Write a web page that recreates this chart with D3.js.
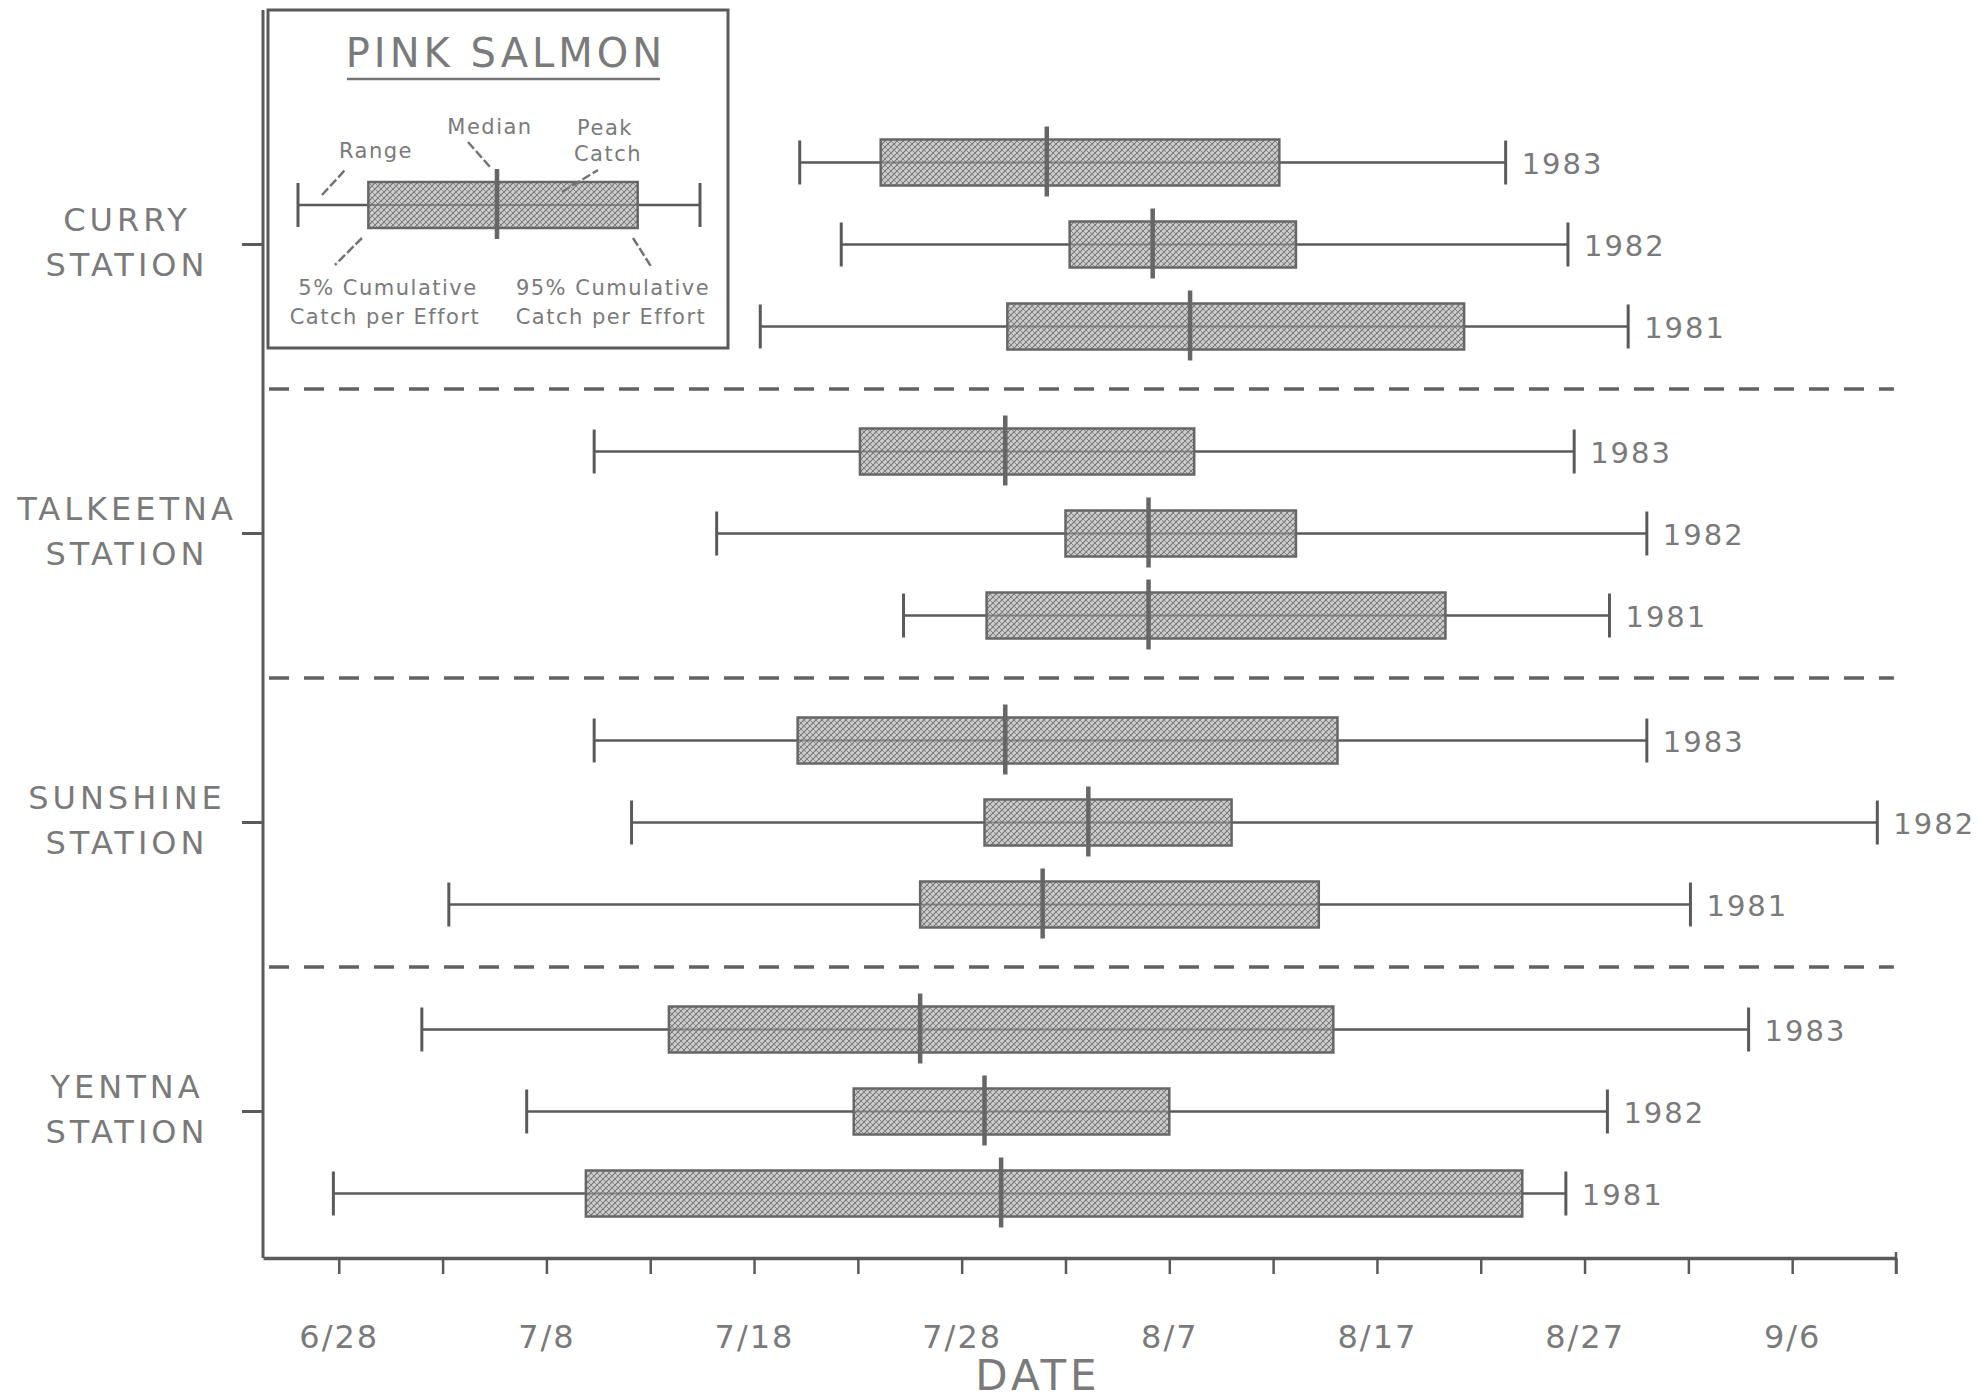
<!DOCTYPE html>
<html>
<head>
<meta charset="utf-8">
<script src="https://cdn.jsdelivr.net/npm/d3@7"></script>
<style>
  html, body { margin: 0; padding: 0; background: #ffffff; }
  svg { display: block; }
  text { font-family: "DejaVu Sans", sans-serif; fill: #7a7a7a; }
</style>
</head>
<body>
<svg id="chart" width="1983" height="1400"></svg>
<script>
// ---------------- DATA (days after 6/28) ----------------
const stations = ["CURRY", "TALKEETNA", "SUNSHINE", "YENTNA"];
const years = ["1983", "1982", "1981"];
// each entry: [range low, 5% cumulative, median, 95% cumulative, range high]
const curry     = { "1983": [22.2, 26.1, 34.1, 45.3, 56.2], "1982": [24.2, 35.2, 39.2, 46.1, 59.2], "1981": [20.3, 32.2, 41.0, 54.2, 62.1] };
const talkeetna = { "1983": [12.3, 25.1, 32.1, 41.2, 59.5], "1982": [18.2, 35.0, 39.0, 46.1, 63.0], "1981": [27.2, 31.2, 39.0, 53.3, 61.2] };
const sunshine  = { "1983": [12.3, 22.1, 32.1, 48.1, 63.0], "1982": [14.1, 31.1, 36.1, 43.0, 74.1], "1981": [5.3, 28.0, 33.9, 47.2, 65.1] };
const yentna    = { "1983": [4.0, 15.9, 28.0, 47.9, 67.9], "1982": [9.05, 24.8, 31.1, 40.0, 61.1], "1981": [-0.26, 11.9, 31.9, 57.0, 59.1] };
const stationData = { CURRY: curry, TALKEETNA: talkeetna, SUNSHINE: sunshine, YENTNA: yentna };

const tickDays   = [0, 5, 10, 15, 20, 25, 30, 35, 40, 45, 50, 55, 60, 65, 70, 75];
const labelDays  = [0, 10, 20, 30, 40, 50, 60, 70];
const tickLabels = ["6/28", "7/8", "7/18", "7/28", "8/7", "8/17", "8/27", "9/6"];

// legend example (relative positions of a schematic box)
const legendExample = [0, 17.5, 49.5, 84.5, 100];
const legendTitle = "PINK SALMON";

// ---------------- LAYOUT ----------------
const svg = d3.select("#chart");
const lineCol = "#5a5a5a";
const axisX = 263, axisTop = 10, axisBottomY = 1258;

const x = d3.scaleLinear().domain([-3.65, 75]).range([axisX, 1896]);
const yBand = d3.scaleBand().domain(stations).range([100, 1256]).padding(0);
const yYear = d3.scalePoint().domain(years).range([-82, 82]);
const rowY = (s, yr) => yBand(s) + yBand.bandwidth() / 2 + yYear(yr);

// hatch pattern
const defs = svg.append("defs");
const pat = defs.append("pattern").attr("id", "hatch").attr("patternUnits", "userSpaceOnUse")
  .attr("width", 6).attr("height", 6);
pat.append("rect").attr("width", 6).attr("height", 6).attr("fill", "#cdcdcd");
pat.append("path").attr("d", "M-1,1 L1,-1 M0,6 L6,0 M5,7 L7,5").attr("stroke", "#767676").attr("stroke-width", 1.1);
pat.append("path").attr("d", "M-1,5 L1,7 M0,0 L6,6 M5,-1 L7,1").attr("stroke", "#868686").attr("stroke-width", 1.0);

// ---------------- AXES ----------------
svg.append("line").attr("x1", axisX).attr("x2", axisX).attr("y1", axisTop).attr("y2", axisBottomY)
  .attr("stroke", lineCol).attr("stroke-width", 3);

const xAxis = d3.axisBottom(x)
  .tickValues(tickDays)
  .tickSize(16)
  .tickSizeOuter(0)
  .tickFormat(d => { const i = labelDays.indexOf(d); return i >= 0 ? tickLabels[i] : ""; });
const gx = svg.append("g").attr("transform", `translate(0,${axisBottomY})`).call(xAxis);
gx.select(".domain").attr("stroke", lineCol).attr("stroke-width", 3.5);
gx.selectAll(".tick line").attr("stroke", lineCol).attr("stroke-width", 2.5);
gx.selectAll(".tick text").attr("y", 90).attr("dy", 0)
  .style("font-family", "'DejaVu Sans', sans-serif").style("font-size", "32px")
  .style("letter-spacing", "2px").attr("fill", "#7a7a7a");

svg.append("line").attr("x1", x(75)).attr("x2", x(75)).attr("y1", axisBottomY - 6).attr("y2", axisBottomY + 16)
  .attr("stroke", lineCol).attr("stroke-width", 2.5);

svg.append("text").attr("x", 1038).attr("y", 1390).attr("text-anchor", "middle")
  .style("font-size", "42px").style("letter-spacing", "4px").text("DATE");

stations.forEach(s => {
  const yc = rowY(s, "1982");
  svg.append("line").attr("x1", axisX - 21).attr("x2", axisX).attr("y1", yc).attr("y2", yc)
    .attr("stroke", lineCol).attr("stroke-width", 3);
  svg.append("text").attr("x", 127).attr("y", yc - 14).attr("text-anchor", "middle")
    .style("font-size", "32px").style("letter-spacing", "4px").text(s);
  svg.append("text").attr("x", 127).attr("y", yc + 31).attr("text-anchor", "middle")
    .style("font-size", "32px").style("letter-spacing", "4px").text("STATION");
});

stations.slice(1).forEach(s => {
  const ys = yBand(s);
  svg.append("line").attr("x1", axisX + 6).attr("x2", x(74.9)).attr("y1", ys).attr("y2", ys)
    .attr("stroke", "#626262").attr("stroke-width", 3.5).attr("stroke-dasharray", "20 15");
});

// ---------------- BOXES ----------------
const boxH = 46, capH = 44, medUp = 36, medDown = 34;
function drawBox(g, xs, vals, yc, label) {
  const [lo, q1, med, q2, hi] = vals;
  g.append("line").attr("x1", xs(lo)).attr("x2", xs(hi)).attr("y1", yc).attr("y2", yc)
    .attr("stroke", lineCol).attr("stroke-width", 2.5);
  g.append("line").attr("x1", xs(lo)).attr("x2", xs(lo)).attr("y1", yc - capH / 2).attr("y2", yc + capH / 2)
    .attr("stroke", lineCol).attr("stroke-width", 3);
  g.append("line").attr("x1", xs(hi)).attr("x2", xs(hi)).attr("y1", yc - capH / 2).attr("y2", yc + capH / 2)
    .attr("stroke", lineCol).attr("stroke-width", 3);
  g.append("rect").attr("x", xs(q1)).attr("y", yc - boxH / 2).attr("width", xs(q2) - xs(q1)).attr("height", boxH)
    .attr("fill", "url(#hatch)").attr("stroke", "#666").attr("stroke-width", 2.5);
  g.append("line").attr("x1", xs(q1)).attr("x2", xs(q2)).attr("y1", yc).attr("y2", yc)
    .attr("stroke", "#6a6a6a").attr("stroke-width", 2).attr("opacity", 0.7);
  g.append("line").attr("x1", xs(med)).attr("x2", xs(med)).attr("y1", yc - medUp).attr("y2", yc + medDown)
    .attr("stroke", "#666").attr("stroke-width", 4.5);
  if (label) {
    g.append("text").attr("x", xs(hi) + 16).attr("y", yc + 11)
      .style("font-size", "29px").style("letter-spacing", "2px").text(label);
  }
}

const gBoxes = svg.append("g");
stations.forEach(s => {
  years.forEach(yr => {
    drawBox(gBoxes, x, stationData[s][yr], rowY(s, yr), yr);
  });
});

// ---------------- LEGEND ----------------
const lg = svg.append("g");
lg.append("rect").attr("x", 268).attr("y", 10).attr("width", 460).attr("height", 338)
  .attr("fill", "#fff").attr("stroke", lineCol).attr("stroke-width", 3);
lg.append("text").attr("x", 506).attr("y", 67).attr("text-anchor", "middle")
  .style("font-size", "40px").style("letter-spacing", "4px").text(legendTitle);
lg.append("line").attr("x1", 347).attr("x2", 660).attr("y1", 79).attr("y2", 79)
  .attr("stroke", "#737373").attr("stroke-width", 2.5);

const lx = d3.scaleLinear().domain([0, 100]).range([298, 700]);
drawBox(lg, lx, legendExample, 205, null);

const smallFont = "21px";
function ltext(xp, yp, t) {
  lg.append("text").attr("x", xp).attr("y", yp).attr("text-anchor", "middle")
    .style("font-size", smallFont).style("letter-spacing", "1.5px").text(t);
}
ltext(376, 158, "Range");
ltext(490, 134, "Median");
ltext(605, 135, "Peak");
ltext(608, 161, "Catch");
ltext(388, 295, "5% Cumulative");
ltext(385, 324, "Catch per Effort");
ltext(613, 295, "95% Cumulative");
ltext(611, 324, "Catch per Effort");

const leaders = [
  [322, 195, 345, 170],
  [468, 142, 490, 167],
  [562, 192, 598, 170],
  [362, 238, 335, 265],
  [633, 238, 652, 268]
];
leaders.forEach(l => {
  lg.append("line").attr("x1", l[0]).attr("y1", l[1]).attr("x2", l[2]).attr("y2", l[3])
    .attr("stroke", "#737373").attr("stroke-width", 2.5).attr("stroke-dasharray", "9 3");
});
</script>
</body>
</html>
